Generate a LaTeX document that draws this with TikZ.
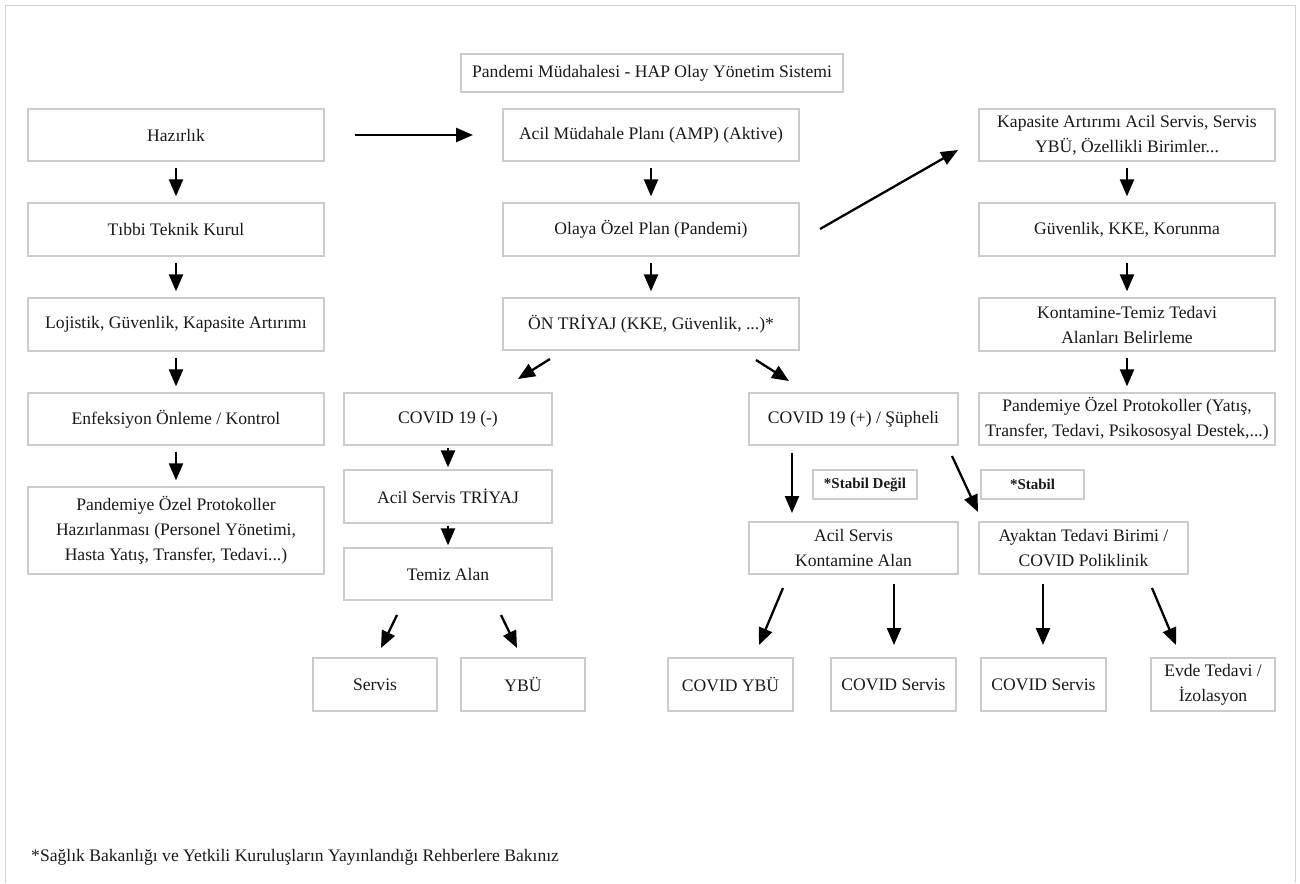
\documentclass[tikz,border=0pt]{standalone}
\usepackage{fontspec}
\setmainfont{Liberation Serif}
\usetikzlibrary{arrows.meta}
\definecolor{boxgray}{HTML}{CCCCCC}
\definecolor{framegray}{HTML}{D4D4D4}
\definecolor{ink}{HTML}{1A1A1A}
\begin{document}
\begin{tikzpicture}[x=1pt,y=-1pt,
  box/.style={draw=boxgray, line width=1.3pt, inner sep=0pt, align=center,
    text=ink, font=\fontsize{17.6}{25}\selectfont},
  tag/.style={draw=boxgray, line width=1.3pt, inner sep=0pt, align=center,
    text=ink, font=\fontsize{15}{18}\selectfont\bfseries,
    minimum height=29pt},
  wide/.style={box, minimum width=296pt, minimum height=52pt},
  mid/.style={box, minimum width=208pt, minimum height=52pt},
  leaf/.style={box, minimum width=125pt, minimum height=53pt},
  arr/.style={draw=black, line width=2.3pt,
    -{Triangle[length=17pt,width=14pt]}},
  varr/.style={arr, shorten <=6pt, shorten >=6pt}]
\useasboundingbox (0,0) rectangle (1300,883);
\fill[white] (0,0) rectangle (1300,883);
% outer frame, open at the bottom
\draw[framegray, line width=1.6pt] (5.5,883) -- (5.5,5.5) -- (1295.5,5.5) -- (1295.5,883);

% heading
\node[box, minimum width=382pt, minimum height=38pt] (title) at (652,73)
  {Pandemi Müdahalesi - HAP Olay Yönetim Sistemi};

% left column: preparation
\node[wide] (hazirlik) at (176,135) {Hazırlık};
\node[wide, minimum height=53pt] (tibbi) at (176,229.5) {Tıbbi Teknik Kurul};
\node[wide, minimum height=53pt] (lojistik) at (176,324.5) {Lojistik, Güvenlik, Kapasite Artırımı};
\node[wide] (enf) at (176,419) {Enfeksiyon Önleme / Kontrol};
\node[wide, minimum height=87pt] (protL) at (176,530.5)
  {Pandemiye Özel Protokoller\\Hazırlanması (Personel Yönetimi,\\Hasta Yatış, Transfer, Tedavi...)};

% middle column: response plan
\node[wide] (amp) at (651,135) {Acil Müdahale Planı (AMP) (Aktive)};
\node[wide, minimum height=53pt] (olaya) at (651,229.5) {Olaya Özel Plan (Pandemi)};
\node[wide] (ontr) at (651,324) {ÖN TRİYAJ (KKE, Güvenlik, ...)*};

% right column: capacity
\node[wide] (kapasite) at (1127,135) {Kapasite Artırımı Acil Servis, Servis\\YBÜ, Özellikli Birimler...};
\node[wide, minimum height=53pt] (guv) at (1127,229.5) {Güvenlik, KKE, Korunma};
\node[wide, minimum height=53pt] (kontT) at (1127,324.5) {Kontamine-Temiz Tedavi\\Alanları Belirleme};
\node[wide] (protR) at (1127,419) {Pandemiye Özel Protokoller (Yatış,\\Transfer, Tedavi, Psikososyal Destek,...)};

% negative branch
\node[mid] (covN) at (448,419) {COVID 19 (-)};
\node[mid, minimum height=53pt] (acilT) at (448,496.5) {Acil Servis TRİYAJ};
\node[mid] (temiz) at (448,574) {Temiz Alan};
\node[leaf, minimum width=124pt] (servis) at (375,684.5) {Servis};
\node[leaf, minimum width=124pt] (ybu) at (523,684.5) {YBÜ};

% positive / suspected branch
\node[mid, minimum width=209pt] (covP) at (853.5,419) {COVID 19 (+) / Şüpheli};
\node[tag, minimum width=104pt] (stabD) at (865,484.5) {*Stabil Değil};
\node[tag, minimum width=103pt] (stab) at (1032.5,484.5) {*Stabil};
\node[mid, minimum width=209pt] (konA) at (853.5,548) {Acil Servis\\Kontamine Alan};
\node[mid, minimum width=209pt] (ayak) at (1083.5,548) {Ayaktan Tedavi Birimi /\\COVID Poliklinik};
\node[leaf] (covY) at (730.5,684.5) {COVID YBÜ};
\node[leaf] (covS1) at (893.5,684.5) {COVID Servis};
\node[leaf] (covS2) at (1043.5,684.5) {COVID Servis};
\node[leaf, minimum width=124pt] (evde) at (1213,684.5) {Evde Tedavi /\\İzolasyon};

% footnote
\node[anchor=west, inner sep=0pt, text=ink, font=\fontsize{17.6}{22}\selectfont] (note) at (31,857)
  {*Sağlık Bakanlığı ve Yetkili Kuruluşların Yayınlandığı Rehberlere Bakınız};

% free ends of the slanted and spaced connectors
\coordinate (hzA) at (355,135);   \coordinate (hzB) at (473,135);
\coordinate (olA) at (820,229);   \coordinate (olB) at (958,150);
\coordinate (onA) at (550,359);   \coordinate (onB) at (518,379);
\coordinate (opA) at (756,360);   \coordinate (opB) at (789,381);
\coordinate (tsA) at (397,615);   \coordinate (tsB) at (381,648);
\coordinate (tyA) at (501,615);   \coordinate (tyB) at (517,648);
\coordinate (cvA) at (792,453);   \coordinate (cvB) at (792,513);
\coordinate (caA) at (952,456);   \coordinate (caB) at (978,512);
\coordinate (kyA) at (783,588);   \coordinate (kyB) at (759,645);
\coordinate (ksA) at (894,584);   \coordinate (ksB) at (894,645);
\coordinate (asA) at (1043,584);  \coordinate (asB) at (1043,645);
\coordinate (aeA) at (1152,588);  \coordinate (aeB) at (1176,645);

% vertical flows
\draw[varr] (hazirlik) -- (tibbi);
\draw[varr] (tibbi) -- (lojistik);
\draw[varr] (lojistik) -- (enf);
\draw[varr] (enf) -- (protL);
\draw[varr] (amp) -- (olaya);
\draw[varr] (olaya) -- (ontr);
\draw[varr] (kapasite) -- (guv);
\draw[varr] (guv) -- (kontT);
\draw[varr] (kontT) -- (protR);
\draw[arr, shorten <=2pt, shorten >=2pt] (covN) -- (acilT);
\draw[arr, shorten <=2pt, shorten >=2pt] (acilT) -- (temiz);

% remaining connectors
\draw[arr] (hzA) -- (hzB);
\draw[arr] (olA) -- (olB);
\draw[arr] (onA) -- (onB);
\draw[arr] (opA) -- (opB);
\draw[arr] (tsA) -- (tsB);
\draw[arr] (tyA) -- (tyB);
\draw[arr] (cvA) -- (cvB);
\draw[arr] (caA) -- (caB);
\draw[arr] (kyA) -- (kyB);
\draw[arr] (ksA) -- (ksB);
\draw[arr] (asA) -- (asB);
\draw[arr] (aeA) -- (aeB);
\end{tikzpicture}
\end{document}
